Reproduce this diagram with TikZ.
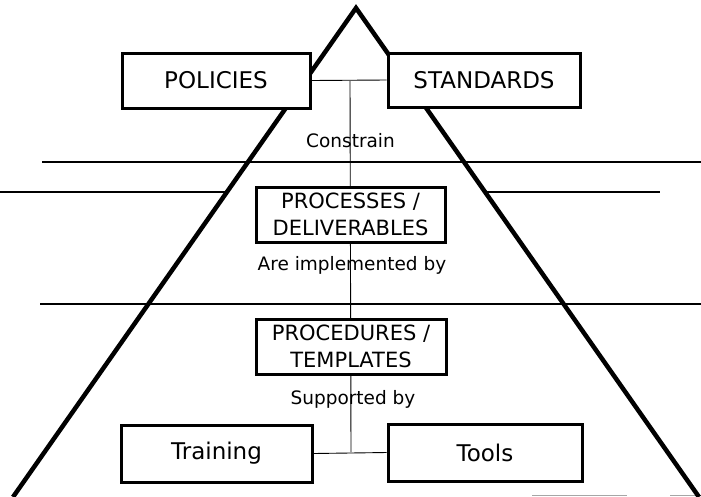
\documentclass[tikz,border=0pt]{standalone}
\usepackage{fontspec}
\setmainfont{DejaVu Sans}
\begin{document}
\begin{tikzpicture}[x=1pt,y=-1pt,
  box/.style={draw, line width=3pt, fill=white, align=center, inner sep=0pt,
    font=\fontsize{21}{27}\selectfont},
  bigbox/.style={box, font=\fontsize{23}{27}\selectfont},
  lbl/.style={font=\fontsize{18.5}{21}\selectfont, anchor=base, inner sep=0pt},
  rule/.style={line width=1.5pt},
  faint/.style={line width=1pt, draw=black!35},
  conn/.style={line width=0.9pt},
  pyr/.style={line width=4.5pt, line join=miter}]
\useasboundingbox (0,0) rectangle (701,496);

% horizontal rules
\coordinate (r1a) at (42,162);  \coordinate (r1b) at (701,162);
\coordinate (r2a) at (0,192);   \coordinate (r2b) at (227,192);
\coordinate (r2c) at (485,192); \coordinate (r2d) at (660,192);
\coordinate (r3a) at (40,304);  \coordinate (r3b) at (701,304);
\coordinate (r4a) at (532,495); \coordinate (r4b) at (627,495);
\coordinate (r4c) at (670,495); \coordinate (r4d) at (701,495);
\draw[rule] (r1a) -- (r1b);
\draw[rule] (r2a) -- (r2b);
\draw[rule] (r2c) -- (r2d);
\draw[rule] (r3a) -- (r3b);
\draw[faint] (r4a) -- (r4b);
\draw[faint] (r4c) -- (r4d);

% pyramid
\coordinate (apex) at (356,8);
\coordinate (bl) at (13,497);
\coordinate (br) at (699,497);
\draw[pyr] (bl) -- (apex) -- (br);

% spine
\coordinate (tj) at (350,81);
\coordinate (bj) at (351,452);
\draw[conn] (tj) -- (bj);

% boxes
\node[bigbox, minimum width=188pt, minimum height=55pt] (pol) at (216,80.5) {POLICIES};
\node[bigbox, minimum width=192pt, minimum height=54pt] (std) at (484,80) {STANDARDS};
\node[box, minimum width=189pt, minimum height=55pt] (proc) at (350.5,214.5) {PROCESSES /\\DELIVERABLES};
\node[box, minimum width=190pt, minimum height=55pt] (pcd) at (351,346.5) {PROCEDURES /\\TEMPLATES};
\node[bigbox, minimum width=191pt, minimum height=57pt] (trn) at (216.5,453.5) {Training};
\node[bigbox, minimum width=194pt, minimum height=57pt] (tls) at (485,452.5) {Tools};

\draw[conn] (pol.east) -- (std.west);
\draw[conn] (trn.east) -- (tls.west);

% labels
\node[lbl] (cons) at (350.5,147) {Constrain};
\node[lbl] (impl) at (352,270) {Are implemented by};
\node[lbl] (supp) at (353,404) {Supported by};
\end{tikzpicture}
\end{document}
